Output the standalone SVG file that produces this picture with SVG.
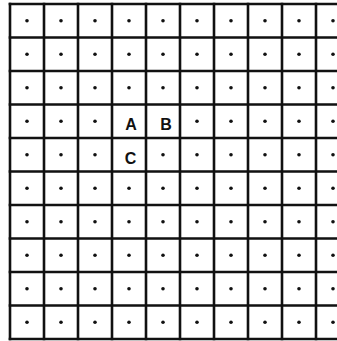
<svg xmlns="http://www.w3.org/2000/svg" width="337" height="341" viewBox="0 0 337 341">
<style>
.g{stroke:#111;stroke-width:2.6;fill:none}
.d{fill:#111}
.t{font-family:"Liberation Sans",Arial,sans-serif;font-size:16px;font-weight:bold;fill:#111;text-anchor:middle}
</style>
<rect width="337" height="341" fill="#fff"/>
<g id="grid" class="g">
<path d="M10 2.7V340.3M44 2.7V340.3M78 2.7V340.3M112 2.7V340.3M146 2.7V340.3M180 2.7V340.3M214 2.7V340.3M248 2.7V340.3M282 2.7V340.3M316 2.7V340.3"/>
<path d="M8.7 4H337M8.7 37.5H337M8.7 71H337M8.7 104.5H337M8.7 138H337M8.7 171.5H337M8.7 205H337M8.7 238.5H337M8.7 272H337M8.7 305.5H337M8.7 339H337"/>
</g>
<defs>
<g id="row">
<circle cx="27" cy="0" r="1.8"/><circle cx="61" cy="0" r="1.8"/><circle cx="95" cy="0" r="1.8"/><circle cx="129" cy="0" r="1.8"/><circle cx="163" cy="0" r="1.8"/><circle cx="197" cy="0" r="1.8"/><circle cx="231" cy="0" r="1.8"/><circle cx="265" cy="0" r="1.8"/><circle cx="299" cy="0" r="1.8"/><circle cx="333" cy="0" r="1.8"/>
</g>
<g id="rowB">
<circle cx="27" cy="0" r="1.8"/><circle cx="61" cy="0" r="1.8"/><circle cx="95" cy="0" r="1.8"/><circle cx="197" cy="0" r="1.8"/><circle cx="231" cy="0" r="1.8"/><circle cx="265" cy="0" r="1.8"/><circle cx="299" cy="0" r="1.8"/><circle cx="333" cy="0" r="1.8"/>
</g>
<g id="rowC">
<circle cx="27" cy="0" r="1.8"/><circle cx="61" cy="0" r="1.8"/><circle cx="95" cy="0" r="1.8"/><circle cx="163" cy="0" r="1.8"/><circle cx="197" cy="0" r="1.8"/><circle cx="231" cy="0" r="1.8"/><circle cx="265" cy="0" r="1.8"/><circle cx="299" cy="0" r="1.8"/><circle cx="333" cy="0" r="1.8"/>
</g>
</defs>
<g id="dots" class="d">
<use href="#row" y="20.75"/>
<use href="#row" y="54.25"/>
<use href="#row" y="87.75"/>
<use href="#rowB" y="121.25"/>
<use href="#rowC" y="154.75"/>
<use href="#row" y="188.25"/>
<use href="#row" y="221.75"/>
<use href="#row" y="255.25"/>
<use href="#row" y="288.75"/>
<use href="#row" y="322.25"/>
</g>
<g id="labels">
<text class="t" x="131" y="129.5">A</text>
<text class="t" x="166" y="129.5">B</text>
<text class="t" x="130.5" y="163.8">C</text>
</g>
</svg>
